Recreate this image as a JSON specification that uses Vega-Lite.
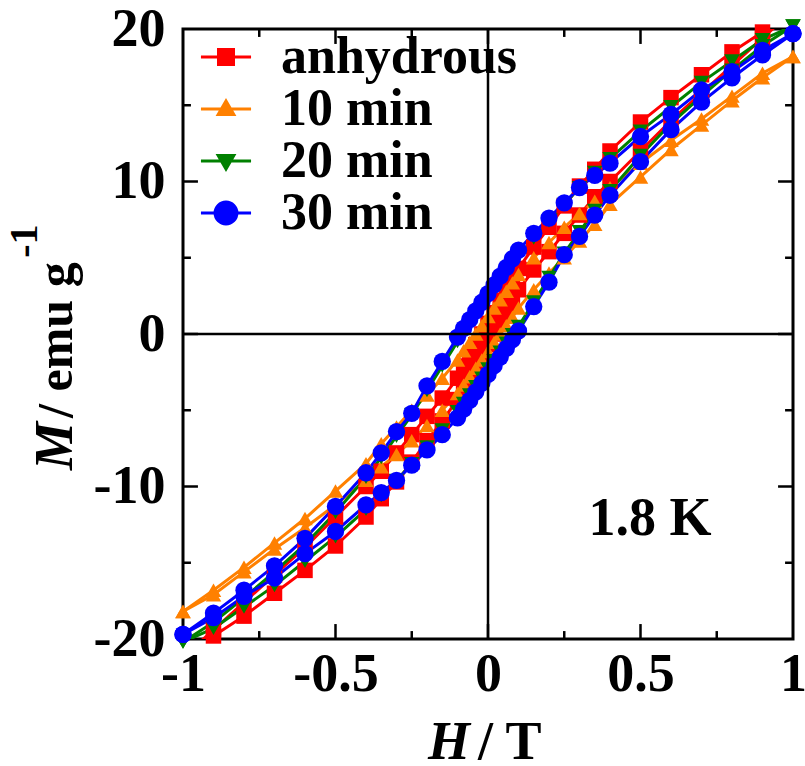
{
"$schema": "https://vega.github.io/schema/vega-lite/v6.json",
"width": 610, "height": 610,
"autosize": "none",
"padding": {"left": 183, "top": 29, "right": 12, "bottom": 127},
"background": "white",
"config": {
  "view": {"stroke": "black", "strokeWidth": 3},
  "axis": {"grid": false, "domain": false, "labelFont": "Liberation Serif", "labelFontWeight": "bold", "labelFontSize": 54, "labelColor": "black"}
},
"datasets": {
"xmajor": [{"v": -0.5}, {"v": 0}, {"v": 0.5}],
"xminor": [{"v": -0.75}, {"v": -0.25}, {"v": 0.25}, {"v": 0.75}],
"ymajor": [{"v": -10}, {"v": 0}, {"v": 10}],
"yminor": [{"v": -15}, {"v": -5}, {"v": 5}, {"v": 15}],
"loops": [
{"s":"anhydrous","b":"d","H":1,"M":21.2},{"s":"anhydrous","b":"d","H":0.9,"M":19.8},{"s":"anhydrous","b":"d","H":0.8,"M":18.5},{"s":"anhydrous","b":"d","H":0.7,"M":17.0},{"s":"anhydrous","b":"d","H":0.6,"M":15.5},{"s":"anhydrous","b":"d","H":0.5,"M":13.9},{"s":"anhydrous","b":"d","H":0.4,"M":12.0},{"s":"anhydrous","b":"d","H":0.35,"M":10.8},{"s":"anhydrous","b":"d","H":0.3,"M":9.7},{"s":"anhydrous","b":"d","H":0.25,"M":8.4},{"s":"anhydrous","b":"d","H":0.2,"M":7.0},{"s":"anhydrous","b":"d","H":0.15,"M":5.7},{"s":"anhydrous","b":"d","H":0.1,"M":4.3},{"s":"anhydrous","b":"d","H":0.08,"M":3.6},{"s":"anhydrous","b":"d","H":0.06,"M":2.9},{"s":"anhydrous","b":"d","H":0.04,"M":2.2},{"s":"anhydrous","b":"d","H":0.02,"M":1.4},{"s":"anhydrous","b":"d","H":0,"M":0.7},{"s":"anhydrous","b":"d","H":-0.02,"M":0.0},{"s":"anhydrous","b":"d","H":-0.04,"M":-0.7},{"s":"anhydrous","b":"d","H":-0.06,"M":-1.4},{"s":"anhydrous","b":"d","H":-0.08,"M":-2.1},{"s":"anhydrous","b":"d","H":-0.1,"M":-2.9},{"s":"anhydrous","b":"d","H":-0.15,"M":-4.2},{"s":"anhydrous","b":"d","H":-0.2,"M":-5.4},{"s":"anhydrous","b":"d","H":-0.25,"M":-6.6},{"s":"anhydrous","b":"d","H":-0.3,"M":-7.8},{"s":"anhydrous","b":"d","H":-0.35,"M":-9.0},{"s":"anhydrous","b":"d","H":-0.4,"M":-10.0},{"s":"anhydrous","b":"d","H":-0.5,"M":-12.0},{"s":"anhydrous","b":"d","H":-0.6,"M":-14.0},{"s":"anhydrous","b":"d","H":-0.7,"M":-15.8},{"s":"anhydrous","b":"d","H":-0.8,"M":-17.6},{"s":"anhydrous","b":"d","H":-0.9,"M":-19.4},{"s":"anhydrous","b":"d","H":-1,"M":-21.2},
{"s":"anhydrous","b":"a","H":1,"M":21.2},{"s":"anhydrous","b":"a","H":0.9,"M":19.4},{"s":"anhydrous","b":"a","H":0.8,"M":17.6},{"s":"anhydrous","b":"a","H":0.7,"M":15.8},{"s":"anhydrous","b":"a","H":0.6,"M":14.0},{"s":"anhydrous","b":"a","H":0.5,"M":12.0},{"s":"anhydrous","b":"a","H":0.4,"M":10.0},{"s":"anhydrous","b":"a","H":0.35,"M":9.0},{"s":"anhydrous","b":"a","H":0.3,"M":7.8},{"s":"anhydrous","b":"a","H":0.25,"M":6.6},{"s":"anhydrous","b":"a","H":0.2,"M":5.4},{"s":"anhydrous","b":"a","H":0.15,"M":4.2},{"s":"anhydrous","b":"a","H":0.1,"M":2.9},{"s":"anhydrous","b":"a","H":0.08,"M":2.1},{"s":"anhydrous","b":"a","H":0.06,"M":1.4},{"s":"anhydrous","b":"a","H":0.04,"M":0.7},{"s":"anhydrous","b":"a","H":0.02,"M":0.0},{"s":"anhydrous","b":"a","H":0,"M":-0.7},{"s":"anhydrous","b":"a","H":-0.02,"M":-1.4},{"s":"anhydrous","b":"a","H":-0.04,"M":-2.2},{"s":"anhydrous","b":"a","H":-0.06,"M":-2.9},{"s":"anhydrous","b":"a","H":-0.08,"M":-3.6},{"s":"anhydrous","b":"a","H":-0.1,"M":-4.3},{"s":"anhydrous","b":"a","H":-0.15,"M":-5.7},{"s":"anhydrous","b":"a","H":-0.2,"M":-7.0},{"s":"anhydrous","b":"a","H":-0.25,"M":-8.4},{"s":"anhydrous","b":"a","H":-0.3,"M":-9.7},{"s":"anhydrous","b":"a","H":-0.35,"M":-10.8},{"s":"anhydrous","b":"a","H":-0.4,"M":-12.0},{"s":"anhydrous","b":"a","H":-0.5,"M":-13.9},{"s":"anhydrous","b":"a","H":-0.6,"M":-15.5},{"s":"anhydrous","b":"a","H":-0.7,"M":-17.0},{"s":"anhydrous","b":"a","H":-0.8,"M":-18.5},{"s":"anhydrous","b":"a","H":-0.9,"M":-19.8},{"s":"anhydrous","b":"a","H":-1,"M":-21.2},
{"s":"10 min","b":"d","H":1,"M":18.2},{"s":"10 min","b":"d","H":0.9,"M":17.1},{"s":"10 min","b":"d","H":0.8,"M":15.6},{"s":"10 min","b":"d","H":0.7,"M":14.1},{"s":"10 min","b":"d","H":0.6,"M":12.7},{"s":"10 min","b":"d","H":0.5,"M":11.2},{"s":"10 min","b":"d","H":0.4,"M":9.6},{"s":"10 min","b":"d","H":0.35,"M":8.7},{"s":"10 min","b":"d","H":0.3,"M":7.9},{"s":"10 min","b":"d","H":0.25,"M":7.0},{"s":"10 min","b":"d","H":0.2,"M":6.0},{"s":"10 min","b":"d","H":0.15,"M":5.0},{"s":"10 min","b":"d","H":0.1,"M":3.9},{"s":"10 min","b":"d","H":0.08,"M":3.35},{"s":"10 min","b":"d","H":0.06,"M":2.8},{"s":"10 min","b":"d","H":0.04,"M":2.25},{"s":"10 min","b":"d","H":0.02,"M":1.7},{"s":"10 min","b":"d","H":0,"M":1.15},{"s":"10 min","b":"d","H":-0.02,"M":0.55},{"s":"10 min","b":"d","H":-0.04,"M":0.0},{"s":"10 min","b":"d","H":-0.06,"M":-0.55},{"s":"10 min","b":"d","H":-0.08,"M":-1.1},{"s":"10 min","b":"d","H":-0.1,"M":-1.7},{"s":"10 min","b":"d","H":-0.15,"M":-2.9},{"s":"10 min","b":"d","H":-0.2,"M":-4.0},{"s":"10 min","b":"d","H":-0.25,"M":-5.0},{"s":"10 min","b":"d","H":-0.3,"M":-6.1},{"s":"10 min","b":"d","H":-0.35,"M":-7.2},{"s":"10 min","b":"d","H":-0.4,"M":-8.5},{"s":"10 min","b":"d","H":-0.5,"M":-10.3},{"s":"10 min","b":"d","H":-0.6,"M":-12.1},{"s":"10 min","b":"d","H":-0.7,"M":-13.7},{"s":"10 min","b":"d","H":-0.8,"M":-15.3},{"s":"10 min","b":"d","H":-0.9,"M":-16.8},{"s":"10 min","b":"d","H":-1,"M":-18.2},
{"s":"10 min","b":"a","H":1,"M":18.2},{"s":"10 min","b":"a","H":0.9,"M":16.8},{"s":"10 min","b":"a","H":0.8,"M":15.3},{"s":"10 min","b":"a","H":0.7,"M":13.7},{"s":"10 min","b":"a","H":0.6,"M":12.1},{"s":"10 min","b":"a","H":0.5,"M":10.3},{"s":"10 min","b":"a","H":0.4,"M":8.5},{"s":"10 min","b":"a","H":0.35,"M":7.2},{"s":"10 min","b":"a","H":0.3,"M":6.1},{"s":"10 min","b":"a","H":0.25,"M":5.0},{"s":"10 min","b":"a","H":0.2,"M":4.0},{"s":"10 min","b":"a","H":0.15,"M":2.9},{"s":"10 min","b":"a","H":0.1,"M":1.7},{"s":"10 min","b":"a","H":0.08,"M":1.1},{"s":"10 min","b":"a","H":0.06,"M":0.55},{"s":"10 min","b":"a","H":0.04,"M":0.0},{"s":"10 min","b":"a","H":0.02,"M":-0.55},{"s":"10 min","b":"a","H":0,"M":-1.15},{"s":"10 min","b":"a","H":-0.02,"M":-1.7},{"s":"10 min","b":"a","H":-0.04,"M":-2.25},{"s":"10 min","b":"a","H":-0.06,"M":-2.8},{"s":"10 min","b":"a","H":-0.08,"M":-3.35},{"s":"10 min","b":"a","H":-0.1,"M":-3.9},{"s":"10 min","b":"a","H":-0.15,"M":-5.0},{"s":"10 min","b":"a","H":-0.2,"M":-6.0},{"s":"10 min","b":"a","H":-0.25,"M":-7.0},{"s":"10 min","b":"a","H":-0.3,"M":-7.9},{"s":"10 min","b":"a","H":-0.35,"M":-8.7},{"s":"10 min","b":"a","H":-0.4,"M":-9.6},{"s":"10 min","b":"a","H":-0.5,"M":-11.2},{"s":"10 min","b":"a","H":-0.6,"M":-12.7},{"s":"10 min","b":"a","H":-0.7,"M":-14.1},{"s":"10 min","b":"a","H":-0.8,"M":-15.6},{"s":"10 min","b":"a","H":-0.9,"M":-17.1},{"s":"10 min","b":"a","H":-1,"M":-18.2},
{"s":"20 min","b":"d","H":1,"M":20.2},{"s":"20 min","b":"d","H":0.9,"M":19.3},{"s":"20 min","b":"d","H":0.8,"M":17.9},{"s":"20 min","b":"d","H":0.7,"M":16.5},{"s":"20 min","b":"d","H":0.6,"M":14.9},{"s":"20 min","b":"d","H":0.5,"M":13.3},{"s":"20 min","b":"d","H":0.4,"M":11.5},{"s":"20 min","b":"d","H":0.35,"M":10.6},{"s":"20 min","b":"d","H":0.3,"M":9.6},{"s":"20 min","b":"d","H":0.25,"M":8.5},{"s":"20 min","b":"d","H":0.2,"M":7.4},{"s":"20 min","b":"d","H":0.15,"M":6.3},{"s":"20 min","b":"d","H":0.1,"M":5.1},{"s":"20 min","b":"d","H":0.08,"M":4.55},{"s":"20 min","b":"d","H":0.06,"M":4.0},{"s":"20 min","b":"d","H":0.04,"M":3.45},{"s":"20 min","b":"d","H":0.02,"M":2.9},{"s":"20 min","b":"d","H":0,"M":2.3},{"s":"20 min","b":"d","H":-0.02,"M":1.75},{"s":"20 min","b":"d","H":-0.04,"M":1.2},{"s":"20 min","b":"d","H":-0.06,"M":0.6},{"s":"20 min","b":"d","H":-0.08,"M":0.05},{"s":"20 min","b":"d","H":-0.1,"M":-0.5},{"s":"20 min","b":"d","H":-0.15,"M":-2.1},{"s":"20 min","b":"d","H":-0.2,"M":-3.7},{"s":"20 min","b":"d","H":-0.25,"M":-5.3},{"s":"20 min","b":"d","H":-0.3,"M":-6.7},{"s":"20 min","b":"d","H":-0.35,"M":-8.1},{"s":"20 min","b":"d","H":-0.4,"M":-9.4},{"s":"20 min","b":"d","H":-0.5,"M":-11.7},{"s":"20 min","b":"d","H":-0.6,"M":-13.8},{"s":"20 min","b":"d","H":-0.7,"M":-15.6},{"s":"20 min","b":"d","H":-0.8,"M":-17.3},{"s":"20 min","b":"d","H":-0.9,"M":-18.9},{"s":"20 min","b":"d","H":-1,"M":-20.2},
{"s":"20 min","b":"a","H":1,"M":20.2},{"s":"20 min","b":"a","H":0.9,"M":18.9},{"s":"20 min","b":"a","H":0.8,"M":17.3},{"s":"20 min","b":"a","H":0.7,"M":15.6},{"s":"20 min","b":"a","H":0.6,"M":13.8},{"s":"20 min","b":"a","H":0.5,"M":11.7},{"s":"20 min","b":"a","H":0.4,"M":9.4},{"s":"20 min","b":"a","H":0.35,"M":8.1},{"s":"20 min","b":"a","H":0.3,"M":6.7},{"s":"20 min","b":"a","H":0.25,"M":5.3},{"s":"20 min","b":"a","H":0.2,"M":3.7},{"s":"20 min","b":"a","H":0.15,"M":2.1},{"s":"20 min","b":"a","H":0.1,"M":0.5},{"s":"20 min","b":"a","H":0.08,"M":-0.05},{"s":"20 min","b":"a","H":0.06,"M":-0.6},{"s":"20 min","b":"a","H":0.04,"M":-1.2},{"s":"20 min","b":"a","H":0.02,"M":-1.75},{"s":"20 min","b":"a","H":0,"M":-2.3},{"s":"20 min","b":"a","H":-0.02,"M":-2.9},{"s":"20 min","b":"a","H":-0.04,"M":-3.45},{"s":"20 min","b":"a","H":-0.06,"M":-4.0},{"s":"20 min","b":"a","H":-0.08,"M":-4.55},{"s":"20 min","b":"a","H":-0.1,"M":-5.1},{"s":"20 min","b":"a","H":-0.15,"M":-6.3},{"s":"20 min","b":"a","H":-0.2,"M":-7.4},{"s":"20 min","b":"a","H":-0.25,"M":-8.5},{"s":"20 min","b":"a","H":-0.3,"M":-9.6},{"s":"20 min","b":"a","H":-0.35,"M":-10.6},{"s":"20 min","b":"a","H":-0.4,"M":-11.5},{"s":"20 min","b":"a","H":-0.5,"M":-13.3},{"s":"20 min","b":"a","H":-0.6,"M":-14.9},{"s":"20 min","b":"a","H":-0.7,"M":-16.5},{"s":"20 min","b":"a","H":-0.8,"M":-17.9},{"s":"20 min","b":"a","H":-0.9,"M":-19.3},{"s":"20 min","b":"a","H":-1,"M":-20.2},
{"s":"30 min","b":"d","H":1,"M":19.7},{"s":"30 min","b":"d","H":0.9,"M":18.6},{"s":"30 min","b":"d","H":0.8,"M":17.2},{"s":"30 min","b":"d","H":0.7,"M":16.0},{"s":"30 min","b":"d","H":0.6,"M":14.4},{"s":"30 min","b":"d","H":0.5,"M":12.95},{"s":"30 min","b":"d","H":0.4,"M":11.2},{"s":"30 min","b":"d","H":0.35,"M":10.4},{"s":"30 min","b":"d","H":0.3,"M":9.6},{"s":"30 min","b":"d","H":0.25,"M":8.6},{"s":"30 min","b":"d","H":0.2,"M":7.6},{"s":"30 min","b":"d","H":0.15,"M":6.6},{"s":"30 min","b":"d","H":0.1,"M":5.5},{"s":"30 min","b":"d","H":0.08,"M":4.93},{"s":"30 min","b":"d","H":0.06,"M":4.36},{"s":"30 min","b":"d","H":0.04,"M":3.79},{"s":"30 min","b":"d","H":0.02,"M":3.22},{"s":"30 min","b":"d","H":0,"M":2.65},{"s":"30 min","b":"d","H":-0.02,"M":2.08},{"s":"30 min","b":"d","H":-0.04,"M":1.51},{"s":"30 min","b":"d","H":-0.06,"M":0.94},{"s":"30 min","b":"d","H":-0.08,"M":0.37},{"s":"30 min","b":"d","H":-0.1,"M":-0.2},{"s":"30 min","b":"d","H":-0.15,"M":-1.8},{"s":"30 min","b":"d","H":-0.2,"M":-3.4},{"s":"30 min","b":"d","H":-0.25,"M":-5.2},{"s":"30 min","b":"d","H":-0.3,"M":-6.4},{"s":"30 min","b":"d","H":-0.35,"M":-7.8},{"s":"30 min","b":"d","H":-0.4,"M":-9.1},{"s":"30 min","b":"d","H":-0.5,"M":-11.3},{"s":"30 min","b":"d","H":-0.6,"M":-13.4},{"s":"30 min","b":"d","H":-0.7,"M":-15.2},{"s":"30 min","b":"d","H":-0.8,"M":-16.8},{"s":"30 min","b":"d","H":-0.9,"M":-18.3},{"s":"30 min","b":"d","H":-1,"M":-19.7},
{"s":"30 min","b":"a","H":1,"M":19.7},{"s":"30 min","b":"a","H":0.9,"M":18.3},{"s":"30 min","b":"a","H":0.8,"M":16.8},{"s":"30 min","b":"a","H":0.7,"M":15.2},{"s":"30 min","b":"a","H":0.6,"M":13.4},{"s":"30 min","b":"a","H":0.5,"M":11.3},{"s":"30 min","b":"a","H":0.4,"M":9.1},{"s":"30 min","b":"a","H":0.35,"M":7.8},{"s":"30 min","b":"a","H":0.3,"M":6.4},{"s":"30 min","b":"a","H":0.25,"M":5.2},{"s":"30 min","b":"a","H":0.2,"M":3.4},{"s":"30 min","b":"a","H":0.15,"M":1.8},{"s":"30 min","b":"a","H":0.1,"M":0.2},{"s":"30 min","b":"a","H":0.08,"M":-0.37},{"s":"30 min","b":"a","H":0.06,"M":-0.94},{"s":"30 min","b":"a","H":0.04,"M":-1.51},{"s":"30 min","b":"a","H":0.02,"M":-2.08},{"s":"30 min","b":"a","H":0,"M":-2.65},{"s":"30 min","b":"a","H":-0.02,"M":-3.22},{"s":"30 min","b":"a","H":-0.04,"M":-3.79},{"s":"30 min","b":"a","H":-0.06,"M":-4.36},{"s":"30 min","b":"a","H":-0.08,"M":-4.93},{"s":"30 min","b":"a","H":-0.1,"M":-5.5},{"s":"30 min","b":"a","H":-0.15,"M":-6.6},{"s":"30 min","b":"a","H":-0.2,"M":-7.6},{"s":"30 min","b":"a","H":-0.25,"M":-8.6},{"s":"30 min","b":"a","H":-0.3,"M":-9.6},{"s":"30 min","b":"a","H":-0.35,"M":-10.4},{"s":"30 min","b":"a","H":-0.4,"M":-11.2},{"s":"30 min","b":"a","H":-0.5,"M":-12.95},{"s":"30 min","b":"a","H":-0.6,"M":-14.4},{"s":"30 min","b":"a","H":-0.7,"M":-16.0},{"s":"30 min","b":"a","H":-0.8,"M":-17.2},{"s":"30 min","b":"a","H":-0.9,"M":-18.6},{"s":"30 min","b":"a","H":-1,"M":-19.7}
]
},
"resolve": {"axis": {"x": "independent", "y": "independent"}},
"layer": [
 {
  "data": {"name": "xmajor"},
  "mark": {"type": "rule", "color": "black", "strokeWidth": 2.5},
  "encoding": {"x": {"field": "v", "type": "quantitative", "scale": {"domain": [-1, 1], "nice": false, "zero": false}, "axis": null}, "y": {"datum": -20, "type": "quantitative", "scale": {"domain": [-20, 20], "nice": false, "zero": false}, "axis": null}, "y2": {"datum": -19.02}}
 },
 {
  "data": {"name": "xmajor"},
  "mark": {"type": "rule", "color": "black", "strokeWidth": 2.5},
  "encoding": {"x": {"field": "v", "type": "quantitative", "axis": null}, "y": {"datum": 20, "type": "quantitative", "axis": null}, "y2": {"datum": 19.02}}
 },
 {
  "data": {"name": "xminor"},
  "mark": {"type": "rule", "color": "black", "strokeWidth": 2.5},
  "encoding": {"x": {"field": "v", "type": "quantitative", "axis": null}, "y": {"datum": -20, "type": "quantitative", "axis": null}, "y2": {"datum": -19.48}}
 },
 {
  "data": {"name": "xminor"},
  "mark": {"type": "rule", "color": "black", "strokeWidth": 2.5},
  "encoding": {"x": {"field": "v", "type": "quantitative", "axis": null}, "y": {"datum": 20, "type": "quantitative", "axis": null}, "y2": {"datum": 19.48}}
 },
 {
  "data": {"name": "ymajor"},
  "mark": {"type": "rule", "color": "black", "strokeWidth": 2.5},
  "encoding": {"y": {"field": "v", "type": "quantitative", "axis": null}, "x": {"datum": -1, "type": "quantitative", "axis": null}, "x2": {"datum": -0.951}}
 },
 {
  "data": {"name": "ymajor"},
  "mark": {"type": "rule", "color": "black", "strokeWidth": 2.5},
  "encoding": {"y": {"field": "v", "type": "quantitative", "axis": null}, "x": {"datum": 1, "type": "quantitative", "axis": null}, "x2": {"datum": 0.951}}
 },
 {
  "data": {"name": "yminor"},
  "mark": {"type": "rule", "color": "black", "strokeWidth": 2.5},
  "encoding": {"y": {"field": "v", "type": "quantitative", "axis": null}, "x": {"datum": -1, "type": "quantitative", "axis": null}, "x2": {"datum": -0.974}}
 },
 {
  "data": {"name": "yminor"},
  "mark": {"type": "rule", "color": "black", "strokeWidth": 2.5},
  "encoding": {"y": {"field": "v", "type": "quantitative", "axis": null}, "x": {"datum": 1, "type": "quantitative", "axis": null}, "x2": {"datum": 0.974}}
 },
 {
  "data": {"name": "loops"},
  "mark": {"type": "line", "strokeWidth": 3, "clip": true},
  "encoding": {
   "x": {"field": "H", "type": "quantitative", "axis": null},
   "y": {"field": "M", "type": "quantitative", "axis": null},
   "color": {"field": "s", "type": "nominal", "scale": {"domain": ["anhydrous", "10 min", "20 min", "30 min"], "range": ["#ff0000", "#ff8000", "#008000", "#0000ff"]}},
   "detail": {"field": "b"}
  }
 },
 {
  "data": {"name": "loops"},
  "transform": [{"filter": "abs(datum.M) <= 20.5"}],
  "mark": {"type": "point", "filled": true, "opacity": 1},
  "encoding": {
   "x": {"field": "H", "type": "quantitative",
         "axis": {"orient": "bottom", "values": [-1, -0.5, 0, 0.5, 1], "ticks": false, "tickSize": 0, "labelPadding": 8, "labelExpr": "'' + datum.value", "labelFlush": false, "labelOverlap": false, "title": null}},
   "y": {"field": "M", "type": "quantitative",
         "axis": {"orient": "left", "values": [-20, -10, 0, 10, 20], "ticks": false, "tickSize": 0, "labelPadding": 18, "labelExpr": "'' + datum.value", "labelBaseline": "middle", "labelFlush": false, "labelOverlap": false, "title": null}},
   "color": {"field": "s", "type": "nominal", "scale": {"domain": ["anhydrous", "10 min", "20 min", "30 min"], "range": ["#ff0000", "#ff8000", "#008000", "#0000ff"]},
     "legend": {"orient": "none", "legendX": 17, "legendY": 2, "title": null, "padding": 0,
       "labelFont": "Liberation Serif", "labelFontSize": 52, "labelFontWeight": "bold", "labelColor": "black", "labelOffset": 29, "labelLimit": 500,
       "symbolSize": 900, "symbolStrokeWidth": 3, "rowPadding": 0,
       "symbolType": {"expr": "datum.value === 'anhydrous' ? 'M-1.67,0H1.67M-0.5,-0.5H0.5V0.5H-0.5Z' : datum.value === '10 min' ? 'M-1.67,0H1.67M0,-0.53L0.52,0.37H-0.52Z' : datum.value === '20 min' ? 'M-1.67,0H1.67M0,0.53L0.52,-0.37H-0.52Z' : 'M-1.67,0H1.67M-0.73,0A0.73,0.73,0,1,0,0.73,0A0.73,0.73,0,1,0,-0.73,0Z'"},
       "symbolStrokeColor": {"expr": "scale('color', datum.value)"}
     }},
   "shape": {"condition": [{"test": "datum.s === 'anhydrous'", "value": "square"}, {"test": "datum.s === '10 min'", "value": "triangle-up"}, {"test": "datum.s === '20 min'", "value": "triangle-down"}], "value": "circle"},
   "size": {"condition": {"test": "datum.s === '30 min'", "value": 300}, "value": 240}
  }
 },
 {
  "data": {"values": [{}]},
  "mark": {"type": "rule", "color": "black", "strokeWidth": 2.5},
  "encoding": {
   "x": {"datum": 0, "type": "quantitative", "axis": null},
   "y": {"datum": -20, "type": "quantitative", "axis": null},
   "y2": {"datum": 20}
  }
 },
 {
  "data": {"values": [{}]},
  "mark": {"type": "rule", "color": "black", "strokeWidth": 2.5},
  "encoding": {
   "y": {"datum": 0, "type": "quantitative", "axis": null},
   "x": {"datum": -1, "type": "quantitative", "axis": null},
   "x2": {"datum": 1}
  }
 },
 {
  "data": {"values": [{}]},
  "mark": {"type": "text", "text": "1.8 K", "font": "Liberation Serif", "fontSize": 54, "fontWeight": "bold", "align": "center", "baseline": "alphabetic", "color": "black"},
  "encoding": {
   "x": {"datum": 0.531, "type": "quantitative", "axis": null},
   "y": {"datum": -13.18, "type": "quantitative", "axis": null}
  }
 },
 {
  "data": {"values": [{}]},
  "mark": {"type": "text", "text": "H", "font": "Liberation Serif", "fontSize": 54, "fontWeight": "bold", "fontStyle": "italic", "align": "left", "baseline": "alphabetic", "color": "black"},
  "encoding": {
   "x": {"datum": -0.197, "type": "quantitative", "axis": null},
   "y": {"datum": -27.9, "type": "quantitative", "axis": null}
  }
 },
 {
  "data": {"values": [{}]},
  "mark": {"type": "text", "text": "/ T", "font": "Liberation Serif", "fontSize": 54, "fontWeight": "bold", "align": "left", "baseline": "alphabetic", "color": "black"},
  "encoding": {
   "x": {"datum": -0.033, "type": "quantitative", "axis": null},
   "y": {"datum": -27.9, "type": "quantitative", "axis": null}
  }
 },
 {
  "data": {"values": [{}]},
  "mark": {"type": "text", "text": "M", "font": "Liberation Serif", "fontSize": 54, "fontWeight": "bold", "fontStyle": "italic", "align": "left", "baseline": "alphabetic", "angle": 270, "color": "black"},
  "encoding": {
   "x": {"datum": -1.364, "type": "quantitative", "axis": null},
   "y": {"datum": -8.92, "type": "quantitative", "axis": null}
  }
 },
 {
  "data": {"values": [{}]},
  "mark": {"type": "text", "text": "/ emu g", "font": "Liberation Serif", "fontSize": 50, "fontWeight": "bold", "align": "left", "baseline": "alphabetic", "angle": 270, "color": "black"},
  "encoding": {
   "x": {"datum": -1.364, "type": "quantitative", "axis": null},
   "y": {"datum": -5.5, "type": "quantitative", "axis": null}
  }
 },
 {
  "data": {"values": [{}]},
  "mark": {"type": "text", "text": "-1", "font": "Liberation Serif", "fontSize": 40, "fontWeight": "bold", "align": "left", "baseline": "alphabetic", "angle": 270, "color": "black"},
  "encoding": {
   "x": {"datum": -1.479, "type": "quantitative", "axis": null},
   "y": {"datum": 5.0, "type": "quantitative", "axis": null}
  }
 }
]
}
